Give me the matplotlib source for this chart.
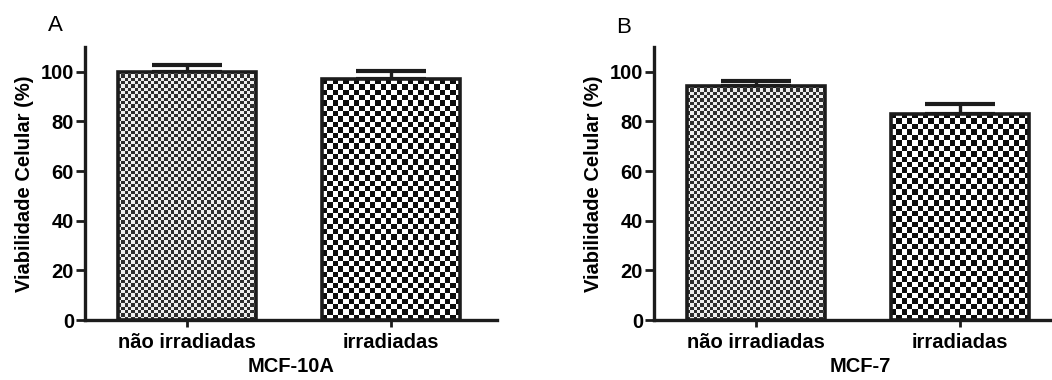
import numpy as np
import matplotlib
matplotlib.use("Agg")
import matplotlib.pyplot as plt

plt.rcParams['font.family'] = ['Liberation Sans', 'DejaVu Sans']

categories = ["não irradiadas", "irradiadas"]
panel_letters = ["A", "B"]
cell_lines = ["MCF-10A", "MCF-7"]
means_A = [100.0, 97.0]
errs_A = [2.8, 3.2]
means_B = [94.4, 83.2]
errs_B = [2.0, 4.0]
yticks = [0, 20, 40, 60, 80, 100]
ylabel = "Viabilidade Celular (%)"

W, H = 1052, 380
fig = plt.figure(figsize=(W / 100, H / 100), dpi=100)

ink = "#1c1c1c"
axes_px = [(85, 47, 412, 273), (654, 47, 412, 273)]
cell_px = [3.3, 5.4]
shades = [(0.18, 0.93), (0.05, 1.0)]
letter_pos = [(-0.073, 1.08), (-0.075, 1.073)]

def checker(ax, bar, cpx, shade):
    x0, y0 = bar.get_x(), bar.get_y()
    x1, y1 = x0 + bar.get_width(), y0 + bar.get_height()
    (dx0, dy0), (dx1, dy1) = ax.transData.transform([(x0, y0), (x1, y1)])
    nx = max(1, int(round((dx1 - dx0) / cpx)))
    ny = max(1, int(round((dy1 - dy0) / cpx)))
    ii, jj = np.indices((ny, nx))
    img = np.where((ii + jj) % 2 == 0, shade[0], shade[1])
    im = ax.imshow(img, cmap="gray", vmin=0, vmax=1, extent=(x0, x1, y0, y1),
                   interpolation="nearest", aspect="auto", zorder=1.5)
    im.set_clip_path(bar)

for k, (means, errs) in enumerate([(means_A, errs_A), (means_B, errs_B)]):
    lx, ty, wpx, hpx = axes_px[k]
    ax = fig.add_axes([lx / W, 1 - (ty + hpx) / H, wpx / W, hpx / H])
    x = np.arange(len(categories))
    ax.set_xlim(-0.5, 1.52)
    ax.set_ylim(0, 110)
    eb = ax.errorbar(x, means, yerr=[np.zeros(len(errs)), errs], fmt="none",
                     ecolor=ink, elinewidth=2.4, capsize=25, capthick=3.0, zorder=1)
    for cl in eb[1]:
        cl.set_solid_capstyle("round")
    bars = ax.bar(x, means, width=0.68, facecolor="white", edgecolor=ink,
                  linewidth=2.6, zorder=2)
    for i, b in enumerate(bars):
        checker(ax, b, cell_px[i], shades[i])
    for b in bars:
        b.set_facecolor("none")
        b.set_zorder(3)
    for s in ["top", "right"]:
        ax.spines[s].set_visible(False)
    for s in ["left", "bottom"]:
        ax.spines[s].set_linewidth(2.4)
        ax.spines[s].set_color(ink)
    ax.set_yticks(yticks)
    ax.set_xticks(x)
    ax.set_xticklabels(categories)
    ax.tick_params(axis="y", length=6.5, width=2, color=ink, labelsize=14.5, pad=1.5)
    ax.tick_params(axis="x", length=5, width=2, color=ink, labelsize=14.5, pad=4)
    for t in ax.get_xticklabels() + ax.get_yticklabels():
        t.set_fontweight("bold")
    ax.set_ylabel(ylabel, fontsize=14.5, fontweight="bold", labelpad=5)
    ax.set_xlabel(cell_lines[k], fontsize=14.5, fontweight="bold", labelpad=4)
    ax.text(letter_pos[k][0], letter_pos[k][1], panel_letters[k], transform=ax.transAxes,
            fontsize=16, ha="center", va="center")

fig.savefig("out.png", dpi=100)
